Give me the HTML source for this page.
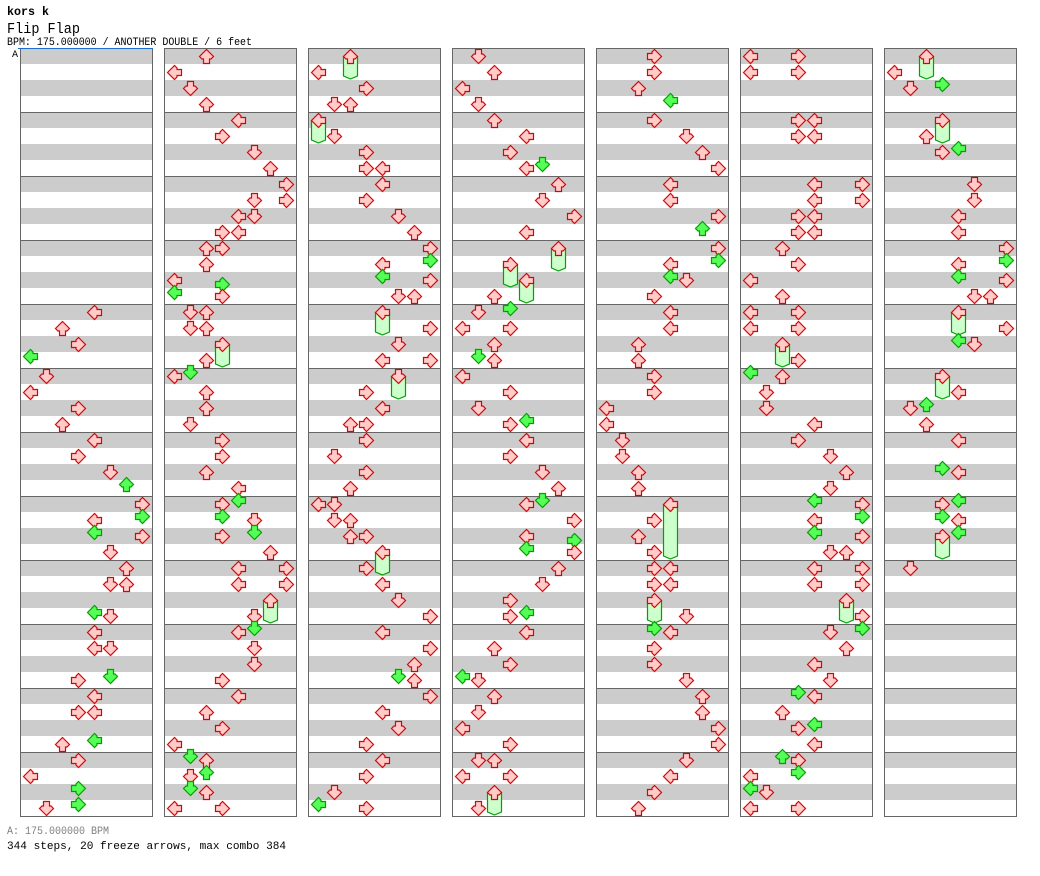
<!DOCTYPE html>
<html>
<head>
<meta charset="utf-8">
<style>
html,body{margin:0;padding:0;background:#fff;}
body{width:1040px;height:876px;overflow:hidden;}
svg{display:block;}
text{font-family:"Liberation Mono",monospace;}
</style>
</head>
<body>
<svg id="s" width="1040" height="876" xmlns="http://www.w3.org/2000/svg">
<defs>
<path id="a" d="M8.5 1.5L15.5 8.5L13 11H11.5V15.5H5.5V11H4L1.5 8.5Z"/>
</defs>
<rect x="0" y="0" width="1040" height="876" fill="#fff"/>
<g id="bg"></g>
<g id="fz"></g>
<g id="ar"></g>
<rect x="18" y="48" width="135" height="1" fill="#1a6fd0"/>
<text x="7" y="15" font-weight="bold" font-size="12" textLength="42" lengthAdjust="spacingAndGlyphs">kors k</text>
<text x="7" y="33" font-size="14.5" textLength="73" lengthAdjust="spacingAndGlyphs">Flip Flap</text>
<text x="7" y="45" font-size="11" textLength="245" lengthAdjust="spacingAndGlyphs">BPM: 175.000000 / ANOTHER DOUBLE / 6 feet</text>
<text x="12" y="57" font-size="10">A</text>
<text x="7" y="834" font-size="11" fill="#808080" textLength="102" lengthAdjust="spacingAndGlyphs">A: 175.000000 BPM</text>
<text x="7" y="849" font-size="11" textLength="279" lengthAdjust="spacingAndGlyphs">344 steps, 20 freeze arrows, max combo 384</text>
</svg>
<script>
(function(){
var NS='http://www.w3.org/2000/svg';
function el(p,tag,at){var e=document.createElementNS(NS,tag);for(var k in at)e.setAttribute(k,at[k]);p.appendChild(e);return e;}
var bg=document.getElementById('bg'),fz=document.getElementById('fz'),ar=document.getElementById('ar');
var rot=[-90,180,0,90];
var cols=[
["","","","",
"0:4 4:2 8:3 11:0",
"0:1 4:0 8:3 12:2",
"0:4 4:3 8:5 11:6",
"0:7 3:7 4:4 7:4 8:7 12:5",
"0:6 4:5 4:6 11:4 12:5",
"0:4 4:4 4:5 11:5 12:3",
"0:4 4:3 4:4 11:4 12:2",
"0:3 4:0 7:3 11:3 12:1"],
["0:2 4:0 8:1 12:2",
"0:4 4:3 8:5 12:6",
"0:7 4:5 4:7 8:4 8:5 12:3 12:4",
"0:2 0:3 4:2 8:0 9:3 11:0 12:3",
"0:1 0:2 4:1 4:2 8:3f 12:2 15:1",
"0:0 4:2 8:2 12:1",
"0:3 4:3 8:2 12:4 15:4",
"0:3 3:3 4:5 7:5 8:3 12:6",
"0:4 0:7 4:4 4:7 8:6f 12:5 15:5",
"0:4 4:5 8:5 12:3",
"0:4 4:2 8:3 12:0 15:1",
"0:2 3:2 4:1 7:1 8:2 12:0 12:3"],
["0:2f 4:0 8:3 12:1 12:2",
"0:0f 4:1 8:3 12:3 12:4",
"0:4 4:3 8:5 12:6",
"0:7 3:7 4:4 7:4 8:7 12:5 12:6",
"0:4f 4:7 8:5 12:4 12:7",
"0:5f 4:3 8:4 12:2 12:3",
"0:3 4:1 8:3 12:2",
"0:0 0:1 4:1 4:2 8:2 8:3 12:4f",
"0:3 4:4 8:5 12:7",
"0:4 4:7 8:6 11:5 12:6",
"0:7 4:4 8:5 12:3",
"0:4 4:3 8:1 11:0 12:3"],
["0:1 4:2 8:0 12:1",
"0:2 4:4 8:3 11:5 12:4",
"0:6 4:5 8:7 12:4",
"0:6f 4:3f 8:4f 12:2 15:3",
"0:1 4:0 4:3 8:2 11:1 12:2",
"0:0 4:3 8:1 11:4 12:3",
"0:4 4:3 8:5 12:6 15:5",
"0:4 4:7 8:4 9:7 11:4 12:7",
"0:6 4:5 8:3 11:4 12:3",
"0:4 4:2 8:3 11:0 12:1",
"0:2 4:1 8:0 12:3",
"0:1 0:2 4:0 4:3 8:2f 12:1"],
["0:3 4:3 8:2 11:4",
"0:3 4:5 8:6 12:7",
"0:4 4:4 8:7 11:6",
"0:7 3:7 4:4 7:4 8:5 12:3",
"0:4 4:4 8:2 12:2",
"0:3 4:3 8:0 12:0",
"0:1 4:1 8:2 12:2",
"0:4F 4:3 8:2 12:3",
"0:3 0:4 4:3 4:4 8:3f 12:5 15:3",
"0:4 4:3 8:3 12:5",
"0:6 4:6 8:7 12:7",
"0:5 4:4 8:3 12:2"],
["0:0 0:3 4:0 4:3",
"0:3 0:4 4:3 4:4",
"0:4 0:7 4:4 4:7 8:3 8:4 12:3 12:4",
"0:2 4:3 8:0 12:2",
"0:0 0:3 4:0 4:3 8:2f 12:3 15:0",
"0:2 4:1 8:1 12:4",
"0:3 4:5 8:6 12:5 15:4",
"0:7 3:7 4:4 7:4 8:7 12:5 12:6",
"0:4 0:7 4:4 4:7 8:6f 12:7 15:7",
"0:5 4:6 8:4 12:5 15:3",
"0:4 4:2 7:4 8:3 12:4 15:2",
"0:3 3:3 4:0 7:0 8:1 12:0 12:3"],
["0:2f 4:0 7:3 8:1",
"0:3f 4:2 7:4 8:3",
"0:5 4:5 8:4 12:4",
"0:7 3:7 4:4 7:4 8:7 12:5 12:6",
"0:4f 4:7 7:4 8:5",
"0:3f 4:4 7:2 8:1 12:2",
"0:4 7:3 8:4 15:4",
"0:3 3:3 4:4 7:4 8:3f",
"0:1","","",""]
];
for(var k=0;k<7;k++){
  var cx=20+144*k;
  el(bg,'rect',{x:cx,y:48,width:132,height:768,fill:'#fff'});
  for(var m=0;m<12;m++){
    var t=48+64*m;
    el(bg,'rect',{x:cx,y:t,width:132,height:16,fill:'#cccccc'});
    el(bg,'rect',{x:cx,y:t+32,width:132,height:16,fill:'#cccccc'});
    if(m>0) el(bg,'rect',{x:cx,y:t,width:132,height:1,fill:'#666666'});
  }
  el(bg,'rect',{x:cx+0.5,y:48.5,width:132,height:768,fill:'none',stroke:'#666666','stroke-width':1});
  for(var m=0;m<12;m++){
    var s=cols[k][m]; if(!s) continue;
    var t=48+64*m;
    var notes=s.split(' ');
    for(var i=0;i<notes.length;i++){
      var n=notes[i]; var p=n.split(':');
      var b=parseInt(p[0],10); var ls=p[1];
      var l=parseInt(ls,10);
      var fr=ls.indexOf('f')>=0?31:(ls.indexOf('F')>=0?63:0);
      var x=cx+2+16*l, y=t+4*b;
      if(fr){
        var tail=y+fr, x0=x+1.5, x1=x+15.5;
        el(fz,'path',{d:'M'+x0+' '+(y+8.5)+'V'+(tail-3)+'L'+(x+8.5)+' '+tail+'L'+x1+' '+(tail-3)+'V'+(y+8.5)+'Z',fill:'#ccffcc',stroke:'#00a000','stroke-width':1.2});
      }
      var g=(b%2==1);
      var u=el(ar,'use',{href:'#a',fill:g?'#55ff55':'#ffcccc',stroke:g?'#00a000':'#e00000','stroke-width':1.2,transform:'translate('+x+','+y+') rotate('+rot[l%4]+' 8.5 8.5)'});
      u.setAttributeNS('http://www.w3.org/1999/xlink','xlink:href','#a');
    }
  }
}
})();
</script>
</body>
</html>
